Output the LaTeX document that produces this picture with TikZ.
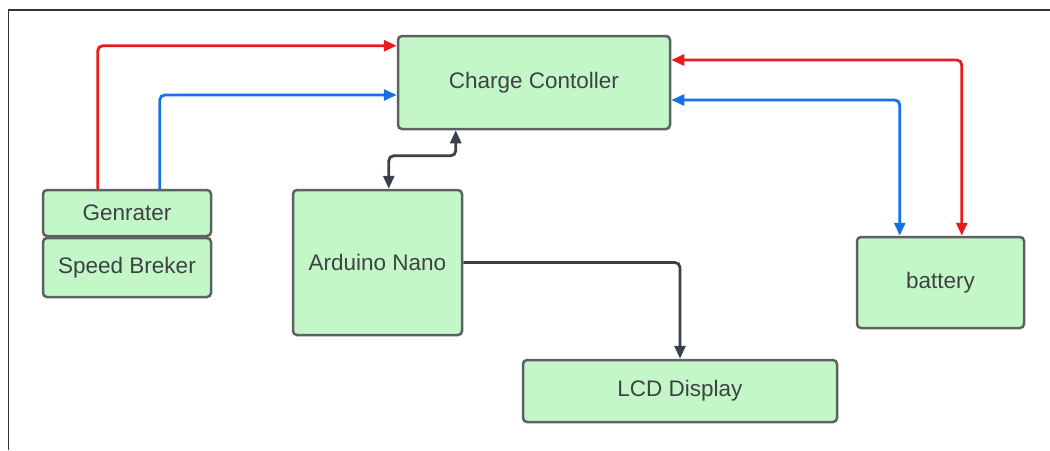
\documentclass[tikz,border=0pt]{standalone}
\usepackage{fontspec}
\setmainfont{Liberation Sans}
\usetikzlibrary{arrows.meta}
\definecolor{boxfill}{HTML}{C3F7C8}
\definecolor{boxline}{HTML}{5E6163}
\definecolor{wirered}{HTML}{E81C1C}
\definecolor{wireblue}{HTML}{1671E8}
\definecolor{wiregray}{HTML}{3A414A}
\definecolor{textgray}{HTML}{3E4244}
\begin{document}
\begin{tikzpicture}[x=1pt,y=-1pt,
    block/.style={draw=boxline,fill=boxfill,line width=2.5pt,rounded corners=4pt,
      inner sep=0pt,text=textgray,font=\fontsize{22.5}{27}\selectfont},
    wire/.style={line width=2.8pt,rounded corners=5pt},
    >={Triangle[length=13pt,width=11pt]}]
  \useasboundingbox (0,0) rectangle (1050,450);
  \draw[line width=1.6pt,color=black!80] (8.5,450)--(8.5,10)--(1050,10);
  % blocks
  \node[block,minimum width=272pt,minimum height=93pt] (charge) at (534,82.5) {Charge Contoller};
  \node[block,minimum width=168pt,minimum height=46pt] (gen) at (127,213) {Genrater};
  \node[block,minimum width=168pt,minimum height=59pt] (speed) at (127,267.5) {Speed Breker};
  \node[block,minimum width=169pt,minimum height=145pt] (ard) at (377.5,262.5) {Arduino Nano};
  \node[block,minimum width=314pt,minimum height=62pt] (lcd) at (680,391) {LCD Display};
  \node[block,minimum width=167pt,minimum height=91pt] (bat) at (940.5,282.5) {battery};
  % wires
  \begin{scope}[wire]
    \draw[wirered,->] ([xshift=56pt]gen.north west) |- ([yshift=-11pt]charge.north west);
    \draw[wireblue,->] ([xshift=118pt]gen.north west) |- ([yshift=-12.5pt]charge.west);
    \draw[wirered,<->] ([yshift=22.5pt]charge.east) -| ([xshift=106pt]bat.north west);
    \draw[wireblue,<->] ([yshift=-17.5pt]charge.east) -| ([xshift=44pt]bat.north west);
    \draw[wiregray,<->] ([xshift=97pt]ard.north west) -- ++(0,-33) -| ([xshift=59pt]charge.south west);
    \draw[wiregray,->] (ard.east) -| (lcd.north);
  \end{scope}
\end{tikzpicture}
\end{document}
